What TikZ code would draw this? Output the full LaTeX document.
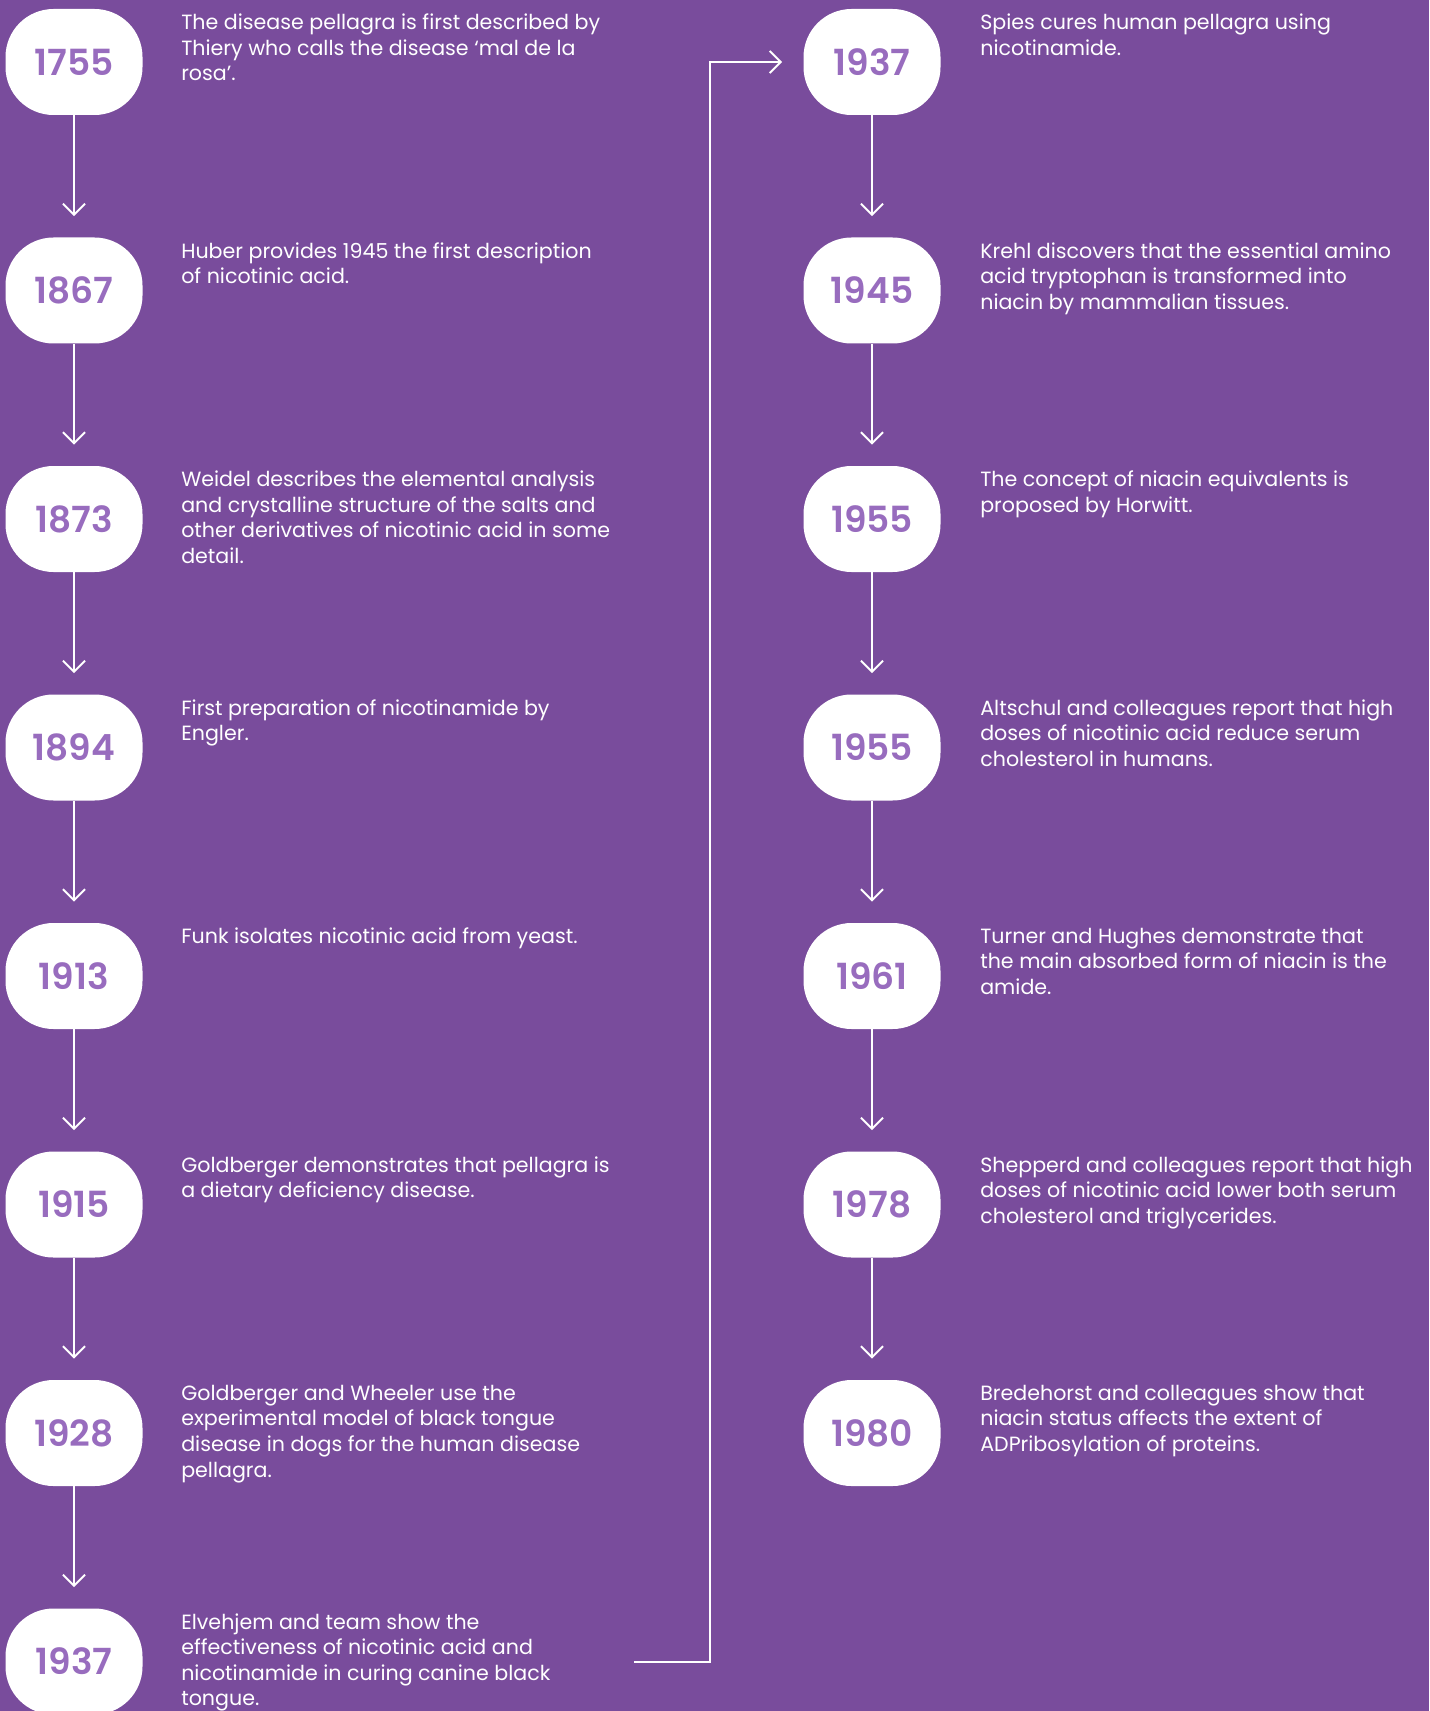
\documentclass[tikz,border=0pt]{standalone}
\usepackage{fontspec}
\setmainfont{Poppins}
\newfontfamily\yearfont{Poppins SemiBold}
\usetikzlibrary{positioning,arrows.meta}
\definecolor{bgpurple}{RGB}{121,76,156}
\definecolor{yearpurple}{RGB}{152,108,190}

\begin{document}
\begin{tikzpicture}[x=0.5pt,y=-0.5pt,shorten >=10.5pt,node distance=114.25pt,on grid,
  >={Straight Barb[length=5.5pt,width=11pt]},
  year/.style={fill=white,rounded corners=24pt,minimum width=68.5pt,minimum height=53pt,
    inner sep=0pt,text=yearpurple,font=\yearfont\fontsize{18}{18}\selectfont},
  desc/.style={text=white,align=left,inner sep=0pt,font=\fontsize{10.3}{12.8}\selectfont},
  link/.style={draw=white,line width=1pt,->}]
  \useasboundingbox (0,0) rectangle (1429,1711);
  \fill[bgpurple] (0,0) rectangle (1429,1711);

  % left column
  \node[year] (y1) at (74,62) {1755};
  \node[year] (y2) [below=of y1] {1867};
  \node[year] (y3) [below=of y2] {1873};
  \node[year] (y4) [below=of y3] {1894};
  \node[year] (y5) [below=of y4] {1913};
  \node[year] (y6) [below=of y5] {1915};
  \node[year] (y7) [below=of y6] {1928};
  \node[year] (y8) [below=of y7] {1937};

  % right column
  \node[year] (r1) [right=399pt of y1] {1937};
  \node[year] (r2) [below=of r1] {1945};
  \node[year] (r3) [below=of r2] {1955};
  \node[year] (r4) [below=of r3] {1955};
  \node[year] (r5) [below=of r4] {1961};
  \node[year] (r6) [below=of r5] {1978};
  \node[year] (r7) [below=of r6] {1980};

  % texts
  \node[desc,right=19pt of y1.north east,anchor=north west,yshift=-2.5pt] (t1)
    {The disease pellagra is first described by\\Thiery who calls the disease ‘mal de la\\rosa’.};
  \node[desc,right=19pt of y2.north east,anchor=north west,yshift=-2.5pt] (t2)
    {Huber provides 1945 the first description\\of nicotinic acid.};
  \node[desc,right=19pt of y3.north east,anchor=north west,yshift=-2.5pt] (t3)
    {Weidel describes the elemental analysis\\and crystalline structure of the salts and\\other derivatives of nicotinic acid in some\\detail.};
  \node[desc,right=19pt of y4.north east,anchor=north west,yshift=-2.5pt] (t4)
    {First preparation of nicotinamide by\\Engler.};
  \node[desc,right=19pt of y5.north east,anchor=north west,yshift=-2.5pt] (t5)
    {Funk isolates nicotinic acid from yeast.};
  \node[desc,right=19pt of y6.north east,anchor=north west,yshift=-2.5pt] (t6)
    {Goldberger demonstrates that pellagra is\\a dietary deficiency disease.};
  \node[desc,right=19pt of y7.north east,anchor=north west,yshift=-2.5pt] (t7)
    {Goldberger and Wheeler use the\\experimental model of black tongue\\disease in dogs for the human disease\\pellagra.};
  \node[desc,right=19pt of y8.north east,anchor=north west,yshift=-2.5pt] (t8)
    {Elvehjem and team show the\\effectiveness of nicotinic acid and\\nicotinamide in curing canine black\\tongue.};

  \node[desc,right=19.5pt of r1.north east,anchor=north west,yshift=-2.5pt] (s1)
    {Spies cures human pellagra using\\nicotinamide.};
  \node[desc,right=19.5pt of r2.north east,anchor=north west,yshift=-2.5pt] (s2)
    {Krehl discovers that the essential amino\\acid tryptophan is transformed into\\niacin by mammalian tissues.};
  \node[desc,right=19.5pt of r3.north east,anchor=north west,yshift=-2.5pt] (s3)
    {The concept of niacin equivalents is\\proposed by Horwitt.};
  \node[desc,right=19.5pt of r4.north east,anchor=north west,yshift=-2.5pt] (s4)
    {Altschul and colleagues report that high\\doses of nicotinic acid reduce serum\\cholesterol in humans.};
  \node[desc,right=19.5pt of r5.north east,anchor=north west,yshift=-2.5pt] (s5)
    {Turner and Hughes demonstrate that\\the main absorbed form of niacin is the\\amide.};
  \node[desc,right=19.5pt of r6.north east,anchor=north west,yshift=-2.5pt] (s6)
    {Shepperd and colleagues report that high\\doses of nicotinic acid lower both serum\\cholesterol and triglycerides.};
  \node[desc,right=19.5pt of r7.north east,anchor=north west,yshift=-2.5pt] (s7)
    {Bredehorst and colleagues show that\\niacin status affects the extent of\\ADPribosylation of proteins.};

  % arrows
  \path[link] (y1) edge (y2);
  \path[link] (y2) edge (y3);
  \path[link] (y3) edge (y4);
  \path[link] (y4) edge (y5);
  \path[link] (y5) edge (y6);
  \path[link] (y6) edge (y7);
  \path[link] (y7) edge (y8);
  \path[link] (r1) edge (r2);
  \path[link] (r2) edge (r3);
  \path[link] (r3) edge (r4);
  \path[link] (r4) edge (r5);
  \path[link] (r5) edge (r6);
  \path[link] (r6) edge (r7);

  \coordinate[right=280pt of y8] (jump);
  \coordinate[left=81pt of r1] (turn);
  \draw[link] (jump) -| (turn) -- (r1);
\end{tikzpicture}
\end{document}
